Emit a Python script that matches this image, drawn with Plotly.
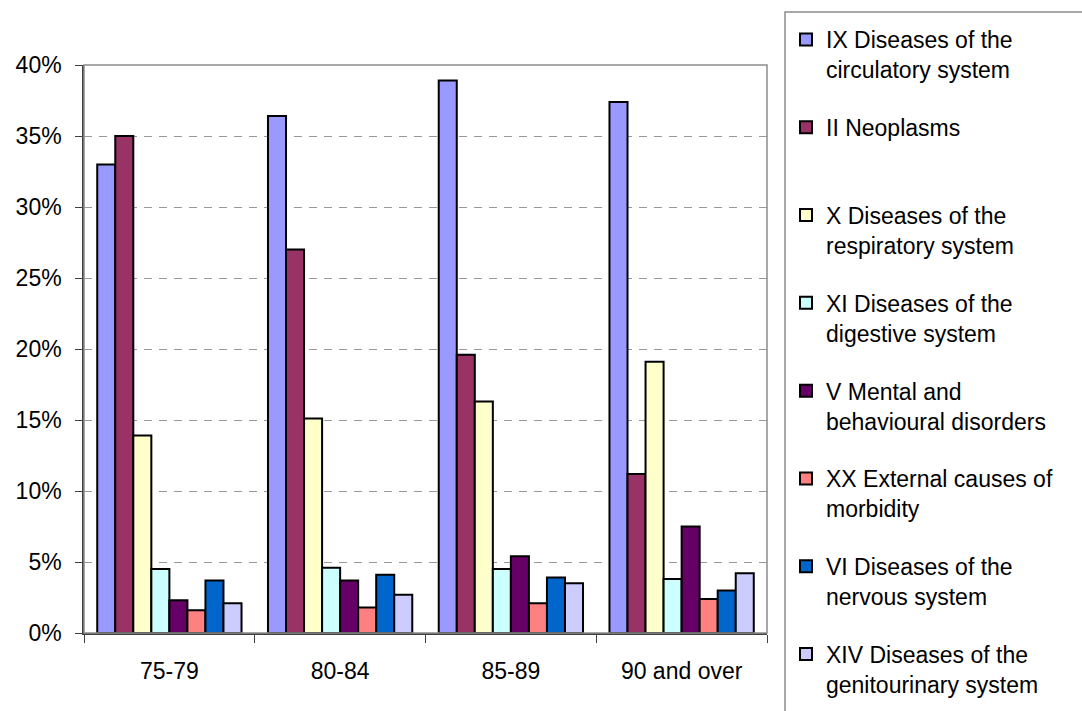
import plotly.graph_objects as go

age_groups = ["75-79", "80-84", "85-89", "90 and over"]

series_names = [
    "IX Diseases of the<br>circulatory system",
    "II Neoplasms<br>\u00a0",
    "X Diseases of the<br>respiratory system",
    "XI Diseases of the<br>digestive system",
    "V Mental and<br>behavioural disorders",
    "XX External causes of<br>morbidity",
    "VI Diseases of the<br>nervous system",
    "XIV Diseases of the<br>genitourinary system",
]

ix_circulatory = [0.330, 0.364, 0.389, 0.374]
ii_neoplasms = [0.350, 0.270, 0.196, 0.112]
x_respiratory = [0.139, 0.151, 0.163, 0.191]
xi_digestive = [0.045, 0.046, 0.045, 0.038]
v_mental = [0.023, 0.037, 0.054, 0.075]
xx_external = [0.016, 0.018, 0.021, 0.024]
vi_nervous = [0.037, 0.041, 0.039, 0.030]
xiv_genitourinary = [0.021, 0.027, 0.035, 0.042]

series_values = [ix_circulatory, ii_neoplasms, x_respiratory, xi_digestive,
                 v_mental, xx_external, vi_nervous, xiv_genitourinary]
series_colors = ["#9999FF", "#993366", "#FFFFCC", "#CCFFFF",
                 "#660066", "#FF8080", "#0066CC", "#CCCCFF"]

y_ticks = [0, 0.05, 0.10, 0.15, 0.20, 0.25, 0.30, 0.35, 0.40]

FONT = "Liberation Sans, Arial, sans-serif"
FS = 23

fig = go.Figure()
for i, (name, vals, col) in enumerate(zip(series_names, series_values, series_colors)):
    fig.add_trace(go.Bar(
        x=age_groups, y=vals, name=name,
        marker=dict(color=col, line=dict(color="black", width=2)),
        legendgroup=f"g{i}",
    ))

L, R, T, B = 84, 315, 65, 78
W, H = 1082, 711
pw, ph = W - L - R, H - T - B

fig.update_layout(
    width=W, height=H,
    margin=dict(l=L, r=R, t=T, b=B, pad=0),
    paper_bgcolor="white", plot_bgcolor="white",
    barmode="group", bargap=0.155, bargroupgap=0,
    font=dict(family=FONT, size=FS, color="black"),
    showlegend=True,
    legend=dict(
        x=(786 - L) / pw, xanchor="left",
        y=(H - B - 18) / ph, yanchor="top",
        traceorder="grouped", tracegroupgap=25,
        valign="top", maxheight=1000,
        bgcolor="rgba(0,0,0,0)", borderwidth=0,
        font=dict(family=FONT, size=FS, color="black"),
    ),
    xaxis=dict(
        showline=True, linecolor="#404040", linewidth=1.5,
        ticks="outside", ticklen=8, tickcolor="#404040", tickwidth=1,
        tickson="boundaries", showgrid=False,
        tickfont=dict(family=FONT, size=FS, color="black"),
        ticklabelstandoff=17,
    ),
    yaxis=dict(
        range=[0, 0.4], tickvals=y_ticks, tickformat=".0%",
        showline=True, linecolor="#404040", linewidth=1.5,
        ticks="outside", ticklen=7, tickcolor="#404040", tickwidth=1,
        showgrid=True, gridcolor="#999999", gridwidth=1, griddash="8px,7px",
        zeroline=False,
        tickfont=dict(family=FONT, size=FS, color="black"),
        ticklabelstandoff=9,
    ),
    shapes=[
        dict(type="rect", xref="paper", yref="paper", x0=0, x1=1, y0=0, y1=1,
             line=dict(color="#8c8c8c", width=1.5), fillcolor="rgba(0,0,0,0)", layer="above"),
        dict(type="rect", xref="paper", yref="paper",
             x0=(785 - L) / pw, x1=(W + 20 - L) / pw,
             y0=(H - B - (H + 20)) / ph, y1=(H - B - 12) / ph,
             line=dict(color="#8c8c8c", width=1.5), fillcolor="rgba(0,0,0,0)"),
    ],
)

fig.write_html("out.html")
